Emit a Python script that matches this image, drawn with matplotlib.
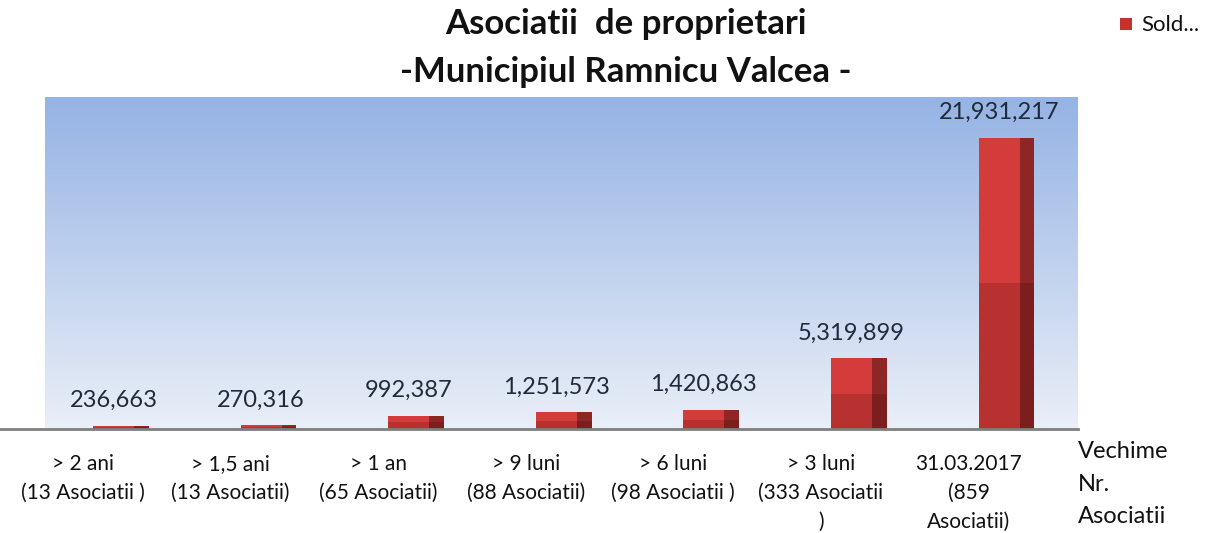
import matplotlib
matplotlib.use("Agg")
import matplotlib.pyplot as plt
import numpy as np
from matplotlib.patches import Rectangle

categories = ["> 2 ani\n(13 Asociatii )", "> 1,5 ani\n(13 Asociatii)", "> 1 an\n(65 Asociatii)",
              "> 9 luni\n(88 Asociatii)", "> 6 luni\n(98 Asociatii )", "> 3 luni\n(333 Asociatii\n)",
              "31.03.2017\n(859\nAsociatii)"]
values = [236663, 270316, 992387, 1251573, 1420863, 5319899, 21931217]
value_labels = ["236,663", "270,316", "992,387", "1,251,573", "1,420,863", "5,319,899", "21,931,217"]
title_lines = ["Asociatii  de proprietari", "-Municipiul Ramnicu Valcea -"]
legend_label = "Sold..."
axis_label = "Vechime\nNr.\nAsociatii"

FONT = "Lato"
W, H = 1207, 533
fig = plt.figure(figsize=(W / 100, H / 100), dpi=100)
fig.patch.set_facecolor("white")

ax = fig.add_axes([45 / W, 1 - 429 / H, (1078 - 45) / W, (429 - 97) / H])
ax.set_xlim(-0.464, 6.535)
ax.set_ylim(0, 25_000_000)
for s in ax.spines.values():
    s.set_visible(False)
ax.set_xticks([])
ax.set_yticks([])

# gradient background
grad = np.linspace(0, 1, 256).reshape(-1, 1)
top = np.array([0x95, 0xB3, 0xE4]) / 255
bot = np.array([0xEA, 0xEF, 0xF8]) / 255
img = top[None, None, :] * (1 - grad[:, :, None]) + bot[None, None, :] * grad[:, :, None]
ax.imshow(img, extent=[0, 1, 0, 1], transform=ax.transAxes, aspect="auto", zorder=0)

x = np.arange(len(values))
vals = np.array(values, dtype=float)
front_w = 0.278
side_w = 0.1
# front face: lower darker half, upper lighter half
ax.bar(x, vals / 2, width=front_w, color="#B83131", zorder=2, linewidth=0)
ax.bar(x, vals / 2, bottom=vals / 2, width=front_w, color="#D43C3C", zorder=2, linewidth=0)
# side face
ax.bar(x + front_w / 2 + side_w / 2, vals / 2, width=side_w, color="#7C1E1E", zorder=2, linewidth=0)
ax.bar(x + front_w / 2 + side_w / 2, vals / 2, bottom=vals / 2, width=side_w, color="#8E2626", zorder=2, linewidth=0)

for xi, v, lab in zip(x, vals, value_labels):
    ax.annotate(lab, (xi, v), xytext=(0, 15), textcoords="offset pixels", ha="center", va="bottom",
                fontsize=17, family=FONT, color="#1F2A3A", zorder=3)

# baseline
ax.plot([-0.72, 1.0], [0, 0], transform=ax.get_yaxis_transform(), color="#7F7F7F", lw=2,
        clip_on=False, zorder=4)

# category labels
for xi, cat in zip(x, categories):
    ax.annotate(cat, (xi - 0.207, 0), xytext=(0, -25), textcoords="offset pixels", ha="center", va="top",
                fontsize=15, family=FONT, color="#111111", linespacing=1.55, annotation_clip=False)

fig.text(1078 / W, 1 - 441 / H, axis_label, ha="left", va="top", fontsize=17, family=FONT,
         color="#111111", linespacing=1.68)

for yc, line in zip([24, 72], title_lines):
    fig.text(626 / W, 1 - yc / H, line, ha="center", va="center", fontsize=25, family=FONT,
             fontweight="bold", color="#111111")

# legend
fig.patches.append(Rectangle((1120 / W, 1 - 30 / H), 12 / W, 12 / H, transform=fig.transFigure,
                             facecolor="#C8302E", edgecolor="none"))
fig.text(1141 / W, 1 - 25 / H, legend_label, ha="left", va="center", fontsize=16, family=FONT,
         color="#111111")

fig.savefig("out.png", dpi=100, facecolor="white")
